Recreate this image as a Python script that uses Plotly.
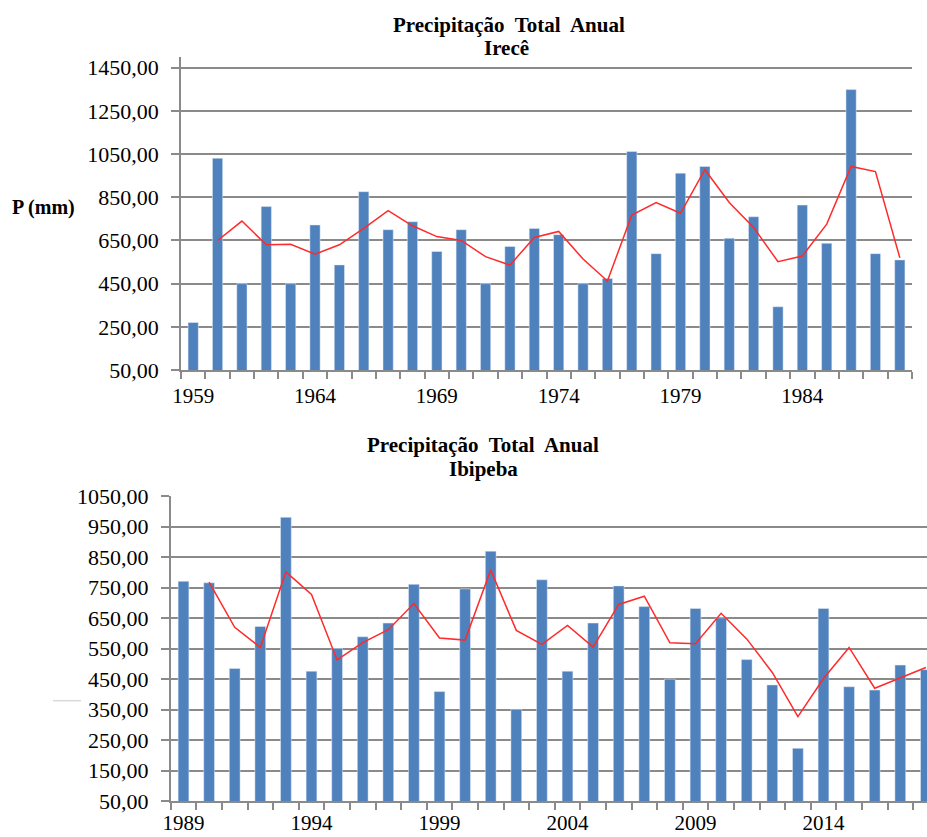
import plotly.graph_objects as go

# ---------------- data ----------------
years_irece = [1959, 1960, 1961, 1962, 1963, 1964, 1965, 1966, 1967, 1968,
               1969, 1970, 1971, 1972, 1973, 1974, 1975, 1976, 1977, 1978,
               1979, 1980, 1981, 1982, 1983, 1984, 1985, 1986, 1987, 1988]
precip_irece = [270, 1031, 450, 807, 450, 722, 537, 876, 700, 737,
                599, 700, 450, 622, 706, 677, 450, 474, 1062, 589,
                962, 993, 660, 760, 343, 814, 637, 1349, 589, 560]
mavg_irece = [None, 650, 740, 630, 632, 586, 630, 706, 788, 718,
              668, 650, 575, 536, 664, 692, 564, 462, 768, 826,
              776, 978, 826, 710, 552, 578, 726, 993, 969, 570]

years_ibipeba = [1989, 1990, 1991, 1992, 1993, 1994, 1995, 1996, 1997, 1998,
                 1999, 2000, 2001, 2002, 2003, 2004, 2005, 2006, 2007, 2008,
                 2009, 2010, 2011, 2012, 2013, 2014, 2015, 2016, 2017, 2018]
precip_ibipeba = [771, 766, 485, 623, 981, 476, 551, 589, 634, 761,
                  409, 746, 870, 351, 776, 476, 634, 756, 688, 450,
                  682, 651, 514, 431, 223, 682, 425, 414, 496, 481]
mavg_ibipeba = [None, 768, 620, 554, 802, 728, 513, 570, 612, 698,
                585, 578, 808, 610, 564, 626, 555, 695, 722, 569,
                566, 666, 582, 472, 327, 452, 554, 420, 455, 488]

yticks_irece = [50, 250, 450, 650, 850, 1050, 1250, 1450]
ytext_irece = ["50,00", "250,00", "450,00", "650,00", "850,00",
               "1050,00", "1250,00", "1450,00"]
yticks_ibipeba = [50, 150, 250, 350, 450, 550, 650, 750, 850, 950, 1050]
ytext_ibipeba = ["50,00", "150,00", "250,00", "350,00", "450,00", "550,00",
                 "650,00", "750,00", "850,00", "950,00", "1050,00"]
xticks_irece = [1959, 1964, 1969, 1974, 1979, 1984]
xticks_ibipeba = [1989, 1994, 1999, 2004, 2009, 2014]

title_line1 = "Precipitação\u00a0 Total\u00a0 Anual"
title_irece = "Irecê"
title_ibipeba = "Ibipeba"
ylabel = "P (mm)"

# ---------------- style ----------------
W, H = 927, 837
BAR = "#4F81BD"
RED = "#FF2A2A"
GRID = "#8A8A8A"
FONT = "Liberation Serif, serif"


def fy(px):
    return (H - px) / H


def fx(px):
    return px / W


fig = go.Figure()

fig.add_trace(go.Bar(x=years_irece, y=precip_irece, marker_color=BAR,
                     width=0.42, xaxis="x", yaxis="y", showlegend=False))
fig.add_trace(go.Scatter(x=years_irece, y=mavg_irece, mode="lines",
                         line=dict(color=RED, width=1.5), connectgaps=False,
                         xaxis="x", yaxis="y", showlegend=False))
fig.add_trace(go.Bar(x=years_ibipeba, y=precip_ibipeba, marker_color=BAR,
                     width=0.42, xaxis="x2", yaxis="y2", showlegend=False))
fig.add_trace(go.Scatter(x=years_ibipeba, y=mavg_ibipeba, mode="lines",
                         line=dict(color=RED, width=1.5), connectgaps=False,
                         xaxis="x2", yaxis="y2", showlegend=False))

xcommon = dict(showline=True, linecolor=GRID, linewidth=1.5, showgrid=False,
               ticks="", zeroline=False, automargin=False,
               tickfont=dict(family=FONT, size=21, color="#000"),
               minor=dict(tickmode="linear", dtick=1, ticks="outside",
                          ticklen=7, tickwidth=1.5, tickcolor=GRID,
                          showgrid=False))
ycommon = dict(showline=True, linecolor=GRID, linewidth=1.5, showgrid=True,
               gridcolor=GRID, gridwidth=1.5, ticks="outside", ticklen=8,
               tickwidth=1.5, tickcolor=GRID, zeroline=False, automargin=False,
               tickfont=dict(family=FONT, size=22, color="#000"),
               ticklabelstandoff=8)

fig.update_layout(
    width=W, height=H,
    margin=dict(l=0, r=0, t=0, b=0, autoexpand=False),
    paper_bgcolor="white", plot_bgcolor="white",
    xaxis=dict(xcommon, domain=[fx(181), fx(912)], range=[1958.5, 1988.5],
               tickmode="array", tickvals=xticks_irece, ticklabelstandoff=6,
               ticktext=[str(v) for v in xticks_irece], anchor="y"),
    yaxis=dict(ycommon, domain=[fy(370), fy(57)], range=[50, 1500],
               tickmode="array", tickvals=yticks_irece,
               ticktext=ytext_irece, anchor="x"),
    xaxis2=dict(xcommon, domain=[fx(170.7), 1.0],
                range=[1988.5, 1988.5 + (W - 170.7) / 25.6],
                tickmode="array", tickvals=xticks_ibipeba, ticklabelstandoff=2,
                ticktext=[str(v) for v in xticks_ibipeba], anchor="y2"),
    yaxis2=dict(ycommon, domain=[fy(801), fy(496.3)], range=[50, 1050],
                tickmode="array", tickvals=yticks_ibipeba,
                ticktext=ytext_ibipeba, anchor="x2"),
)
fig.layout.xaxis.minor.tick0 = 1958.5
fig.layout.xaxis2.minor.tick0 = 1988.5

ann = [
    (title_line1, 509, 25, 21),
    (title_irece, 506, 48, 21),
    (title_line1, 483, 445, 21),
    (title_ibipeba, 483, 469, 21),
    (ylabel, 43, 207, 20),
]
for txt, x, y, sz in ann:
    fig.add_annotation(text="<b>" + txt + "</b>", x=fx(x), y=fy(y),
                       xref="paper", yref="paper", xanchor="center",
                       yanchor="middle", showarrow=False,
                       font=dict(family=FONT, size=sz, color="#000"))

# small stray grey line left of the lower chart
fig.add_shape(type="line", xref="paper", yref="paper",
              x0=fx(53), x1=fx(81), y0=fy(700.7), y1=fy(700.7),
              line=dict(color="#D9D9D9", width=1.5))

fig.write_html(
    "out.html",
    config={"displayModeBar": False},
    post_script="document.body.style.margin='0px';"
                "document.body.style.overflow='hidden';"
                "document.documentElement.style.overflow='hidden';",
)
